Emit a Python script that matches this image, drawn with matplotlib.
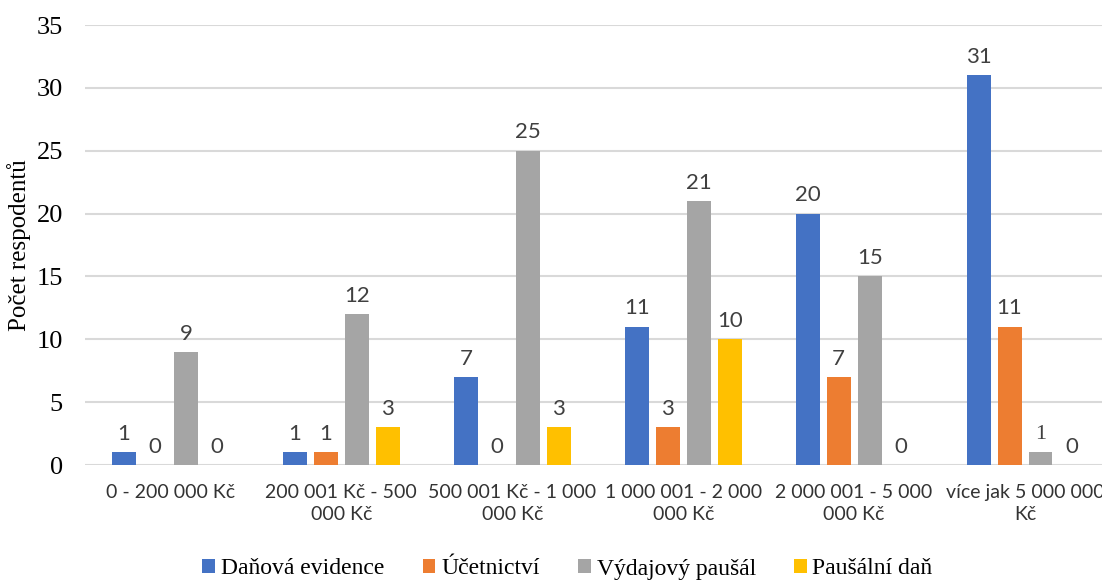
import matplotlib
matplotlib.use("Agg")
import matplotlib.pyplot as plt
import numpy as np

categories = ["0 - 200 000 Kč", "200 001 Kč - 500\n000 Kč", "500 001 Kč - 1 000\n000 Kč",
              "1 000 001 - 2 000\n000 Kč", "2 000 001 - 5 000\n000 Kč", "více jak 5 000 000\nKč"]
series = ["Daňová evidence", "Účetnictví", "Výdajový paušál", "Paušální daň"]
dan_evidence = [1, 1, 7, 11, 20, 31]
ucetnictvi = [0, 1, 0, 3, 7, 11]
vydaj_pausal = [9, 12, 25, 21, 15, 1]
pausal_dan = [0, 3, 3, 10, 0, 0]
values = [dan_evidence, ucetnictvi, vydaj_pausal, pausal_dan]
colors = ["#4472C4", "#ED7D31", "#A5A5A5", "#FFC000"]

SERIF = "Liberation Serif"
SANS = "Lato"

fig = plt.figure(figsize=(11.02, 5.81), dpi=100)
ax = fig.add_axes([85 / 1102, 1 - 465 / 581, (1102 - 85) / 1102, 440 / 581])

x = np.arange(len(categories))
w = 0.14
step = 0.181
for i, (vals, c, name) in enumerate(zip(values, colors, series)):
    pos = x + (i - 1.5) * step
    bars = ax.bar(pos, vals, w, color=c, label=name, zorder=3)
    for j, (b, v) in enumerate(zip(bars, vals)):
        fam = SERIF if (i == 2 and j == 5) else SANS
        ax.annotate(str(v), (b.get_x() + b.get_width() / 2, v), xytext=(0, 6),
                    textcoords="offset points", ha="center", va="bottom",
                    fontsize=16, color="#404040", family=fam)

ax.set_xlim(-0.5, 5.5 - 8.5 / 171)
ax.set_ylim(0, 35)
ax.set_yticks(range(0, 36, 5))
ax.set_yticklabels([str(t) for t in range(0, 36, 5)], family=SERIF, fontsize=19)
ax.set_xticks(x)
ax.set_xticklabels(categories, family=SANS, fontsize=14, color="#333333", linespacing=1.35)
ax.tick_params(axis="both", length=0)
ax.tick_params(axis="x", pad=14)
ax.tick_params(axis="y", pad=16)
for s in ax.spines.values():
    s.set_visible(False)
ax.grid(axis="y", color="#d9d9d9", lw=1.5, zorder=0)
ax.set_axisbelow(True)
ax.set_ylabel("Počet respodentů", family=SERIF, fontsize=18, labelpad=4)

leg = fig.legend(loc="center", bbox_to_anchor=(0.515, 1 - 569 / 581), ncol=4, frameon=False,
                 prop={"family": SERIF, "size": 17}, handlelength=0.55, handleheight=0.55,
                 handletextpad=0.25, columnspacing=1.6)

fig.savefig("out.png", dpi=100)
